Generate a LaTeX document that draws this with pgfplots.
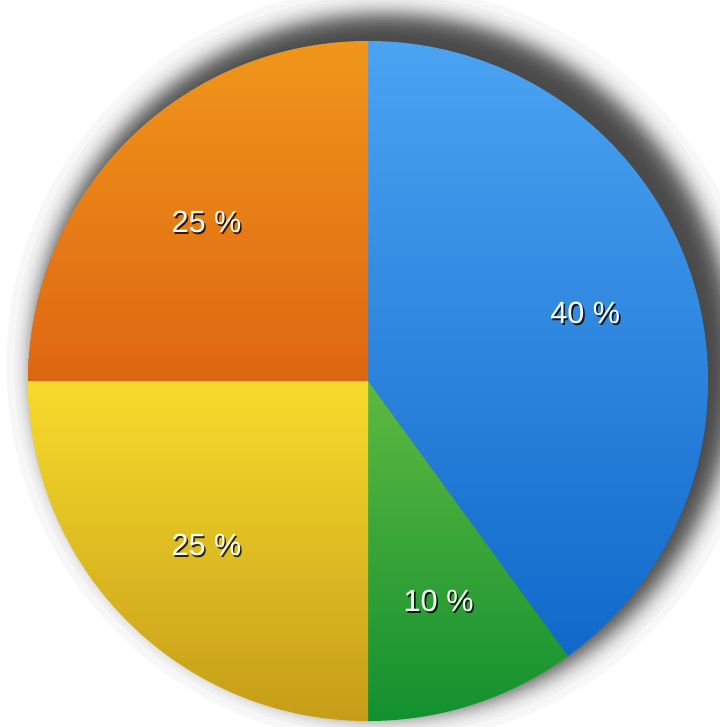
\documentclass[border=0pt]{standalone}
\usepackage{pgfplots}
\pgfplotsset{compat=1.18}
\usepackage{fontspec}
\setmainfont{Liberation Sans}

\definecolor{blueT}{HTML}{4BA3F2}
\definecolor{blueB}{HTML}{0A62C6}
\definecolor{greenT}{HTML}{5DB940}
\definecolor{greenB}{HTML}{12902F}
\definecolor{yellowT}{HTML}{F7DB2C}
\definecolor{yellowB}{HTML}{C59D18}
\definecolor{orangeT}{HTML}{F0961A}
\definecolor{orangeB}{HTML}{DE6612}

% slice: start angle, end angle, top y, bottom y, top colour, bottom colour
\newcommand{\slice}[6]{%
  \begin{scope}
    \clip (0,0) circle[radius=1];
    \clip (0,0) -- ({2*cos(#1)},{2*sin(#1)}) -- ({2*cos((#1+#2)/2)},{2*sin((#1+#2)/2)})
          -- ({2*cos(#2)},{2*sin(#2)}) -- cycle;
    \shade[top color=#5, bottom color=#6] (-1.05,#3) rectangle (1.05,#4);
  \end{scope}}

\newcommand{\plabel}[2]{%
  \node[text=black, opacity=0.8, font=\fontsize{7.7}{9}\selectfont, xshift=0.4pt, yshift=-1.1pt]
    at ({0.672*cos(#1)},{0.672*sin(#1)}) {#2};
  \node[text=white, font=\fontsize{7.7}{9}\selectfont, yshift=-0.6pt]
    at ({0.672*cos(#1)},{0.672*sin(#1)}) {#2};}

\begin{document}
\begin{tikzpicture}
\begin{axis}[
  x=3cm, y=3cm,
  hide axis, clip=false,
  xmin=-1.0824, xmax=1.0324,
  ymin=-1.0176, ymax=1.1206,
]
% soft shadow behind the pie: stacked discs, radii spread like a blur (340 px = 1)
\pgfplotsinvokeforeach{0,...,39}{
  \fill[black, opacity=0.0313] (0.047,0.047)
    circle[radius={(347+7*ln((#1+0.5)/(39.5-#1)))/340}];
}
% shares: 40 %, 10 %, 25 %, 25 % clockwise from the top
\slice{90}{-54}{1}{-1}{blueT}{blueB}
\slice{-54}{-90}{0}{-1}{greenT}{greenB}
\slice{-90}{-180}{0}{-1}{yellowT}{yellowB}
\slice{-180}{-270}{1}{0}{orangeT}{orangeB}
\plabel{18}{40 \%}
\plabel{-72}{10 \%}
\plabel{-135}{25 \%}
\plabel{-225}{25 \%}
\end{axis}
\pgfresetboundingbox
\useasboundingbox (current axis.south west) rectangle (current axis.north east);
\end{tikzpicture}
\end{document}
